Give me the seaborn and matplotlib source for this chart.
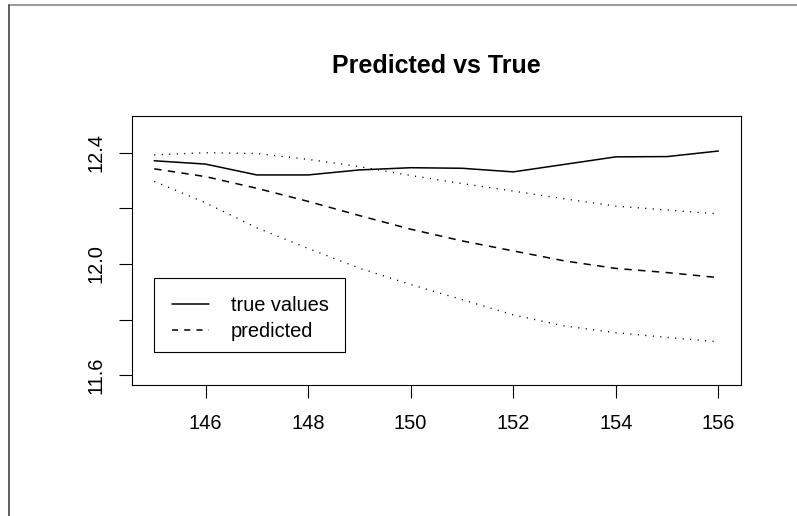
import numpy as np
import pandas as pd
import matplotlib
matplotlib.use("Agg")
import matplotlib.pyplot as plt
from matplotlib.lines import Line2D
from matplotlib.patches import Rectangle
import seaborn as sns

# values
steps = [145, 146, 147, 148, 149, 150, 151, 152, 153, 154, 155, 156]
true_values = [12.371, 12.359, 12.320, 12.320, 12.338, 12.346, 12.344,
               12.331, 12.358, 12.385, 12.386, 12.406]
predicted = [12.342, 12.314, 12.272, 12.225, 12.174, 12.125, 12.083,
             12.047, 12.011, 11.984, 11.969, 11.951]
upper_band = [12.392, 12.400, 12.397, 12.376, 12.350, 12.318, 12.289,
              12.262, 12.234, 12.208, 12.194, 12.180]
lower_band = [12.297, 12.220, 12.130, 12.056, 11.985, 11.926, 11.872,
              11.817, 11.777, 11.753, 11.736, 11.720]

x_ticks = [146, 148, 150, 152, 154, 156]
y_ticks = [11.6, 11.8, 12.0, 12.2, 12.4]
y_tick_labels = ["11.6", "", "12.0", "", "12.4"]
legend_labels = ["true values", "predicted"]

df = pd.DataFrame({"step": steps, "true": true_values, "pred": predicted,
                   "upper": upper_band, "lower": lower_band})

sns.set_style("white")
plt.rcParams["font.family"] = ["Liberation Sans", "DejaVu Sans"]
plt.rcParams["text.color"] = "black"

fig = plt.figure(figsize=(7.97, 5.16), dpi=100)
ax = fig.add_axes([0.1652, 0.2539, 0.9297 - 0.1652, 0.7758 - 0.2539])

solid_style = dict(color="black", linewidth=1.1)
sns.lineplot(data=df, x="step", y="true", ax=ax, linestyle="-", **solid_style)
sns.lineplot(data=df, x="step", y="pred", ax=ax, linestyle=(0, (4.8, 4.2)), **solid_style)
sns.lineplot(data=df, x="step", y="upper", ax=ax, color="black", linewidth=1.0,
             linestyle=(0, (0.8, 4.6)))
sns.lineplot(data=df, x="step", y="lower", ax=ax, color="black", linewidth=1.0,
             linestyle=(0, (0.8, 4.6)))

ax.set_xlim(144.56, 156.44)
ax.set_ylim(11.565, 12.533)
ax.set_xticks(x_ticks)
ax.set_xticklabels([str(t) for t in x_ticks])
ax.set_yticks(y_ticks)
ax.set_yticklabels(y_tick_labels, rotation=90, va="center")
ax.set_xlabel("")
ax.set_ylabel("")
ax.tick_params(axis="both", direction="out", length=9.6, width=0.8,
               color="black", labelsize=14.4, labelcolor="black",
               bottom=True, left=True)
ax.tick_params(axis="x", pad=11)
ax.tick_params(axis="y", pad=9)
for sp in ax.spines.values():
    sp.set_color("black")
    sp.set_linewidth(0.8)

# legend box drawn as its own rectangle, entries placed inside it
ax.add_patch(Rectangle((0.0366, 0.1214), 0.350 - 0.0366, 0.396 - 0.1214,
                       transform=ax.transAxes, fill=False, edgecolor="black",
                       linewidth=0.8, zorder=5))
handles = [Line2D([], [], color="black", linewidth=1.1, linestyle="-"),
           Line2D([], [], color="black", linewidth=1.1, linestyle=(0, (4.0, 4.0)))]
leg = ax.legend(handles, legend_labels, loc="upper left",
                bbox_to_anchor=(0.0366, 0.396), borderaxespad=0,
                fontsize=14.4, handlelength=1.83, handletextpad=1.1,
                borderpad=0.9, labelspacing=0.35, frameon=False)

fig.text(0.5475, 1 - 73.3 / 516, "Predicted vs True", ha="center", va="baseline",
         fontsize=18, fontweight="bold", color="black")

# thin frame on top and left edges of the image
fig.add_artist(Line2D([9 / 797, 1], [1 - 5 / 516, 1 - 5 / 516], color="#888888",
                      linewidth=1.2, transform=fig.transFigure))
fig.add_artist(Line2D([9 / 797, 9 / 797], [0, 1 - 5 / 516], color="#444444",
                      linewidth=1.2, transform=fig.transFigure))

fig.savefig("out.png", dpi=100)
